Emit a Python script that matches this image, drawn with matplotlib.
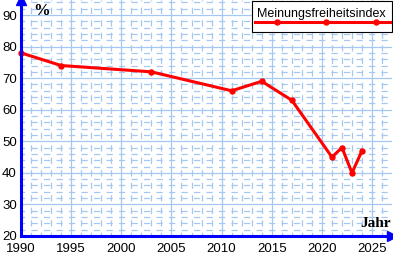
import matplotlib
matplotlib.use("Agg")
import matplotlib.pyplot as plt
import numpy as np
from matplotlib.lines import Line2D
from matplotlib.patches import Rectangle

years = [1990, 1994, 2003, 2011, 2014, 2017, 2021, 2022, 2023, 2024]
values = [78, 74, 72, 66, 69, 63, 45, 48, 40, 47]
xticks = [1990, 1995, 2000, 2005, 2010, 2015, 2020, 2025]
yticks = [20, 30, 40, 50, 60, 70, 80, 90]
series_label = "Meinungsfreiheitsindex"

W, H = 393, 256
fig = plt.figure(figsize=(W / 100, H / 100), dpi=100)
ax = fig.add_axes([21 / W, 20 / H, 371 / W, 236 / H])
ax.set_xlim(1990, 1990 + 371 / 10.03)
ax.set_ylim(20, 20 + 236 / 3.157)

grid_c = "#a6c8f0"
ax.set_xticks(xticks)
ax.set_yticks(yticks)
ax.set_xticks(np.arange(1991, 2027, 1), minor=True)
ax.set_yticks(np.arange(22, 95, 2), minor=True)
ax.grid(which="major", color=grid_c, linewidth=0.9, linestyle="-")
ax.grid(which="minor", color=grid_c, linewidth=0.9, linestyle=(2, (5, 5)))
ax.set_axisbelow(True)

ax.tick_params(which="both", length=0)
ax.tick_params(axis="x", pad=5)
ax.tick_params(axis="y", pad=3)
for lab in ax.get_xticklabels() + ax.get_yticklabels():
    lab.set_fontfamily("Liberation Sans")
    lab.set_fontsize(9.5)

for s in ["top", "right"]:
    ax.spines[s].set_visible(False)
for s in ["left", "bottom"]:
    ax.spines[s].set_color("#0000ff")
    ax.spines[s].set_linewidth(2.2)
    ax.spines[s].set_zorder(5)

# axis arrows
ax.plot([0], [1], marker="^", color="#0000ff", markersize=7, transform=ax.transAxes,
        clip_on=False, zorder=6)
ax.plot([1], [0], marker=">", color="#0000ff", markersize=7, transform=ax.transAxes,
        clip_on=False, zorder=6)

ax.plot(years, values, color="#ff0000", linewidth=2.2, marker="o", markersize=3.6,
        zorder=4, clip_on=False)

fig.text(33 / W, 1 - 15 / H, "%", fontfamily="Liberation Serif", fontweight="bold",
         fontsize=12, ha="left", va="baseline")
fig.text(391 / W, 1 - 227 / H, "Jahr", fontfamily="Liberation Serif", fontweight="bold",
         fontsize=11, ha="right", va="baseline")

# legend box
fig.patches.append(Rectangle((252 / W, 1 - 32 / H), 140 / W, 31 / H, transform=fig.transFigure,
                             facecolor="white", edgecolor="black", linewidth=0.8, zorder=10))
fig.text(321 / W, 1 - 17 / H, series_label, fontfamily="Liberation Sans", fontsize=9,
         ha="center", va="baseline", zorder=11)
fig.lines.append(Line2D([255 / W, 390 / W], [1 - 22.3 / H] * 2, transform=fig.transFigure,
                        color="#ff0000", linewidth=2.2, zorder=11))
fig.lines.append(Line2D([277 / W, 326 / W, 376 / W], [1 - 22.3 / H] * 3, transform=fig.transFigure,
                        color="#ff0000", linestyle="none", marker="o", markersize=3.6, zorder=11))

fig.savefig("out.png", dpi=100)
